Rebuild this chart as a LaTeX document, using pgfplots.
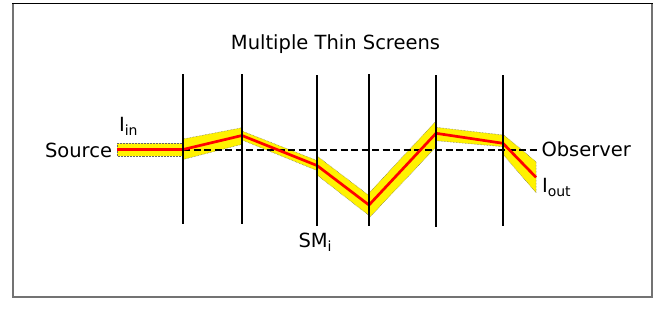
\documentclass[border=0pt]{standalone}
\usepackage{pgfplots}
\pgfplotsset{compat=1.18}
\usepackage{fontspec}
\setmainfont{DejaVu Sans}
\tikzset{lab/.style={font=\fontsize{19.5bp}{22bp}\selectfont, inner sep=0pt, outer sep=0pt}}
\newcommand{\sub}[1]{\raisebox{-0.22em}{\fontsize{14bp}{14bp}\selectfont #1}}
\begin{document}
\begin{tikzpicture}
\begin{axis}[
  x={(1bp,0bp)}, y={(0bp,-1bp)},
  xmin=0, xmax=662, ymin=0, ymax=310,
  hide axis, clip=false, scale only axis,
]
% bounding box
\addplot[draw=none] coordinates {(0,0) (662,310)};
% frame
\addplot[black!55, line width=1.5bp] coordinates {(13,3.5) (13,297) (652,297) (652,3.5)};
\addplot[black, line width=1.5bp] coordinates {(12.25,3.5) (652.75,3.5)};
% yellow bands
\pgfplotsset{band/.style={fill=yellow, draw=black!60, densely dotted, line width=0.5bp}}
\addplot[band] coordinates {(117,143.3) (183,143.3) (183,156) (117,156) (117,143.3)};
\addplot[band] coordinates {(183,139) (242,127.7) (242,144.3) (183,159.5) (183,139)};
\addplot[band] coordinates {(242,131) (317,160.5) (317,170.5) (242,140) (242,131)};
\addplot[band] coordinates {(317,156) (369,195.5) (369,215.5) (317,175) (317,156)};
\addplot[band] coordinates {(369,193) (436,121) (436,147) (369,218) (369,193)};
\addplot[band] coordinates {(436,127.3) (503,135) (503,146.7) (436,140.7) (436,127.3)};
\addplot[band] coordinates {(503,134.3) (536,161.7) (536,192.7) (503,154.3) (503,134.3)};
% dashed axis line
\addplot[black, line width=2.3bp, dash pattern=on 7bp off 3.5bp] coordinates {(183,150) (540,150)};
% red ray
\addplot[red, line width=2.7bp] coordinates {(117,149.5) (183,149.5) (242,135.5) (317,165.5) (369,205) (436,133.3) (503,143.3) (536,177.3)};
% screens
\addplot[black, line width=2.2bp] coordinates {(183,74) (183,224)};
\addplot[black, line width=2.2bp] coordinates {(242,74) (242,224)};
\addplot[black, line width=2.2bp] coordinates {(317,75) (317,226)};
\addplot[black, line width=2.2bp] coordinates {(369,74) (369,226)};
\addplot[black, line width=2.2bp] coordinates {(436,75) (436,227)};
\addplot[black, line width=2.2bp] coordinates {(503,75) (503,226)};
% labels
\node[lab, anchor=base] at (axis cs:335.5,49.3) {Multiple Thin Screens};
\node[lab, anchor=base east] at (axis cs:112,157) {Source};
\node[lab, anchor=base west] at (axis cs:541.5,156.7) {Observer};
\node[lab, anchor=base west] at (axis cs:119,131) {I\sub{in}};
\node[lab, anchor=base west] at (axis cs:542,192) {I\sub{out}};
\node[lab, anchor=base west] at (axis cs:298.5,247) {SM\sub{i}};
\end{axis}
\end{tikzpicture}
\end{document}
